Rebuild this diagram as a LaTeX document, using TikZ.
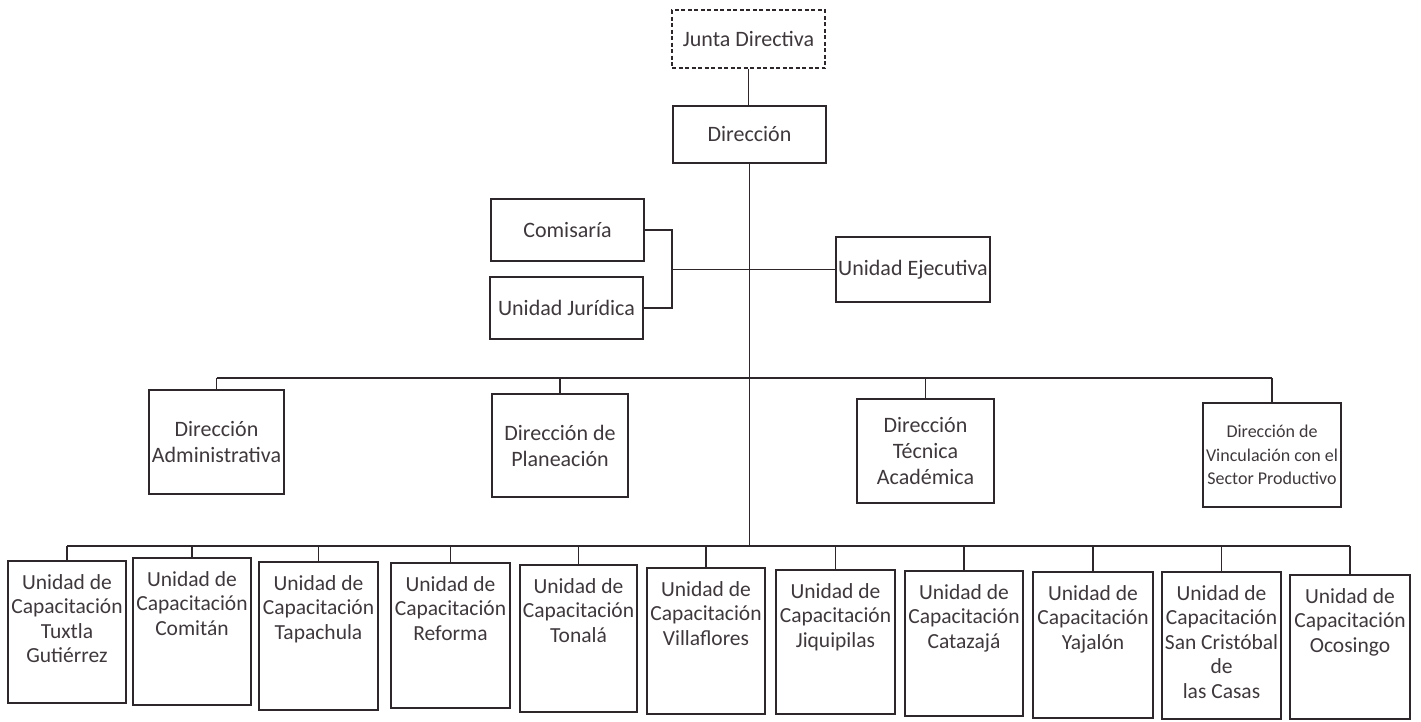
\documentclass[tikz,border=0pt]{standalone}
\usepackage{fontspec}
\setmainfont{Carlito}
\definecolor{ink}{RGB}{45,38,42}
\definecolor{txt}{RGB}{62,56,60}
\tikzset{
  box/.style={draw=ink, line width=1.8pt, inner sep=0pt, align=center, text=txt,
    font={\fontsize{22}{26}\selectfont}},
  dbox/.style={box, dash pattern=on 4pt off 2.5pt},
  vbox/.style={box, font={\fontsize{18}{23.5}\selectfont}},
  utext/.style={anchor=north, inner sep=0pt, align=center, text=txt,
    font={\fontsize{21.5}{24.5}\selectfont}},
  conn/.style={draw=ink, line width=1.6pt}
}
\begin{document}
\begin{tikzpicture}[x=1pt,y=-1pt]
\useasboundingbox (0,0) rectangle (1421,721);
% top
\node[dbox, minimum width=153pt, minimum height=58pt] (junta) at (748.5,39) {Junta Directiva};
\node[box, minimum width=153pt, minimum height=57pt] (dir) at (749.5,134.5) {Dirección};
% staff
\node[box, minimum width=153pt, minimum height=62pt] (com) at (567.5,230) {Comisaría};
\node[box, minimum width=153pt, minimum height=62pt] (jur) at (566.5,308) {Unidad Jurídica};
\node[box, minimum width=154pt, minimum height=65pt] (ue) at (913,269.5) {Unidad Ejecutiva};
% direcciones
\node[box, minimum width=135pt, minimum height=104pt] (da) at (216.5,442) {Dirección\\Administrativa};
\node[box, minimum width=136pt, minimum height=103pt] (plan) at (560,445.5) {Dirección de\\Planeación};
\node[box, minimum width=137pt, minimum height=104pt] (ta) at (925.5,451) {Dirección\\Técnica\\Académica};
\node[vbox, minimum width=138pt, minimum height=104pt] (vinc) at (1272,455) {Dirección de\\Vinculación con el\\Sector Productivo};
% unidades
\node[box, minimum width=118pt, minimum height=142pt] (tux) at (67,632) {};
\node[box, minimum width=118pt, minimum height=147pt] (cmt) at (192,631.5) {};
\node[box, minimum width=119pt, minimum height=148pt] (tap) at (318.5,636) {};
\node[box, minimum width=119pt, minimum height=145pt] (ref) at (450.5,635.5) {};
\node[box, minimum width=117pt, minimum height=147pt] (ton) at (578.5,638.5) {};
\node[box, minimum width=118pt, minimum height=146pt] (vil) at (706,641) {};
\node[box, minimum width=119pt, minimum height=144pt] (jiq) at (835.5,642) {};
\node[box, minimum width=118pt, minimum height=145pt] (cat) at (964,643.5) {};
\node[box, minimum width=120pt, minimum height=146pt] (yaj) at (1093,645) {};
\node[box, minimum width=119pt, minimum height=147pt] (sc) at (1221.5,645.5) {};
\node[box, minimum width=120pt, minimum height=144pt] (oco) at (1350,647) {};
\node[utext] (tuxT) at ([yshift=-14pt]tux.north) {Unidad de\\Capacitación\\Tuxtla\\Gutiérrez};
\node[utext] (cmtT) at ([yshift=-14pt]cmt.north) {Unidad de\\Capacitación\\Comitán};
\node[utext] (tapT) at ([yshift=-14pt]tap.north) {Unidad de\\Capacitación\\Tapachula};
\node[utext] (refT) at ([yshift=-14pt]ref.north) {Unidad de\\Capacitación\\Reforma};
\node[utext] (tonT) at ([yshift=-14pt]ton.north) {Unidad de\\Capacitación\\Tonalá};
\node[utext] (vilT) at ([yshift=-14pt]vil.north) {Unidad de\\Capacitación\\Villaflores};
\node[utext] (jiqT) at ([yshift=-14pt]jiq.north) {Unidad de\\Capacitación\\Jiquipilas};
\node[utext] (catT) at ([yshift=-14pt]cat.north) {Unidad de\\Capacitación\\Catazajá};
\node[utext] (yajT) at ([yshift=-14pt]yaj.north) {Unidad de\\Capacitación\\Yajalón};
\node[utext] (scT) at ([yshift=-14pt]sc.north) {Unidad de\\Capacitación\\San Cristóbal\\de\\las Casas};
\node[utext] (ocoT) at ([yshift=-14pt]oco.north) {Unidad de\\Capacitación\\Ocosingo};
% connectors
\coordinate (busA) at (749,378);
\coordinate (busB) at (749,546);
\coordinate (brk) at (672,269.5);
\draw[conn] (junta.south) -- (junta.south |- dir.north);
\draw[conn] (dir.south) -- (dir.south |- busB);
\draw[conn] (com.east) -| (brk);
\draw[conn] (jur.east) -| (brk);
\draw[conn] (brk) -- (ue.west);
\draw[conn] (da.north |- busA) -- (vinc.north |- busA);
\foreach \n in {da,plan,ta,vinc} \draw[conn] (\n.north) -- (\n.north |- busA);
\draw[conn] (tux.north |- busB) -- (oco.north |- busB);
\foreach \n in {tux,cmt,tap,ref,ton,vil,jiq,cat,yaj,sc,oco} \draw[conn] (\n.north) -- (\n.north |- busB);
\end{tikzpicture}
\end{document}
